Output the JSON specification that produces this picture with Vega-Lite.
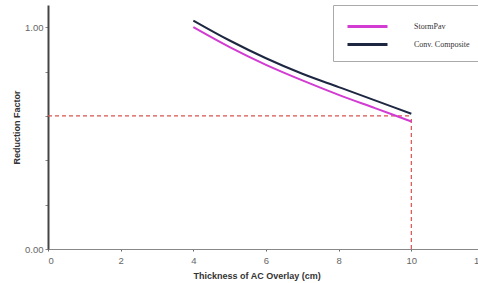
{
  "$schema": "https://vega.github.io/schema/vega-lite/v6.json",
  "autosize": {"type": "none"},
  "padding": {"left": 48, "top": 5, "right": 0, "bottom": 34},
  "width": 436,
  "height": 244,
  "background": "white",
  "config": {
    "view": {"stroke": null},
    "font": "Liberation Sans"
  },
  "datasets": {
    "curves": [
      {"t": 4, "rf": 1.0, "series": "StormPav"},
      {"t": 5, "rf": 0.91, "series": "StormPav"},
      {"t": 6, "rf": 0.83, "series": "StormPav"},
      {"t": 7, "rf": 0.76, "series": "StormPav"},
      {"t": 8, "rf": 0.695, "series": "StormPav"},
      {"t": 9, "rf": 0.635, "series": "StormPav"},
      {"t": 10, "rf": 0.575, "series": "StormPav"},
      {"t": 4, "rf": 1.03, "series": "Conv. Composite"},
      {"t": 5, "rf": 0.94, "series": "Conv. Composite"},
      {"t": 6, "rf": 0.86, "series": "Conv. Composite"},
      {"t": 7, "rf": 0.79, "series": "Conv. Composite"},
      {"t": 8, "rf": 0.73, "series": "Conv. Composite"},
      {"t": 9, "rf": 0.67, "series": "Conv. Composite"},
      {"t": 10, "rf": 0.61, "series": "Conv. Composite"}
    ],
    "refs": [
      {"x": 0, "x2": 10, "y": 0.6, "y2": 0.6},
      {"x": 10, "x2": 10, "y": 0, "y2": 0.6}
    ]
  },
  "layer": [
    {
      "data": {"name": "refs"},
      "mark": {"type": "rule", "color": "#d9534f", "strokeDash": [4, 3], "strokeWidth": 1.2},
      "encoding": {
        "x": {"field": "x", "type": "quantitative", "scale": {"domain": [0, 12]},
          "axis": {
            "values": [0,1,2,3,4,5,6,7,8,9,10,11,12],
            "labelExpr": "datum.value % 2 == 0 ? datum.value : ''",
            "domainColor": "#888", "domainWidth": 1,
            "tickColor": "#666", "tickSize": 2, "ticks": true,
            "grid": false, "labelFont": "Liberation Sans Narrow, Liberation Sans", "labelFontSize": 9.5, "labelColor": "#666", "labelPadding": 4,
            "title": "Thickness of AC Overlay (cm)", "titleFont": "Liberation Sans Narrow, Liberation Sans", "titleFontSize": 9, "titleFontWeight": "bold",
            "titleColor": "#333", "titleX": 145, "titleY": 26, "titleAlign": "left", "titleBaseline": "middle"
          }},
        "x2": {"field": "x2"},
        "y": {"field": "y", "type": "quantitative", "scale": {"domain": [0, 1.1]},
          "axis": {
            "values": [0,0.1,0.2,0.3,0.4,0.5,0.6,0.7,0.8,0.9,1.0],
            "labelExpr": "abs(datum.value*2 - round(datum.value*2)) < 0.001 ? format(datum.value, '.2f') : ''",
            "domainColor": "#444", "domainWidth": 2,
            "tickColor": "#888", "tickSize": 3,
            "grid": false, "labelFont": "Liberation Sans Narrow, Liberation Sans", "labelFontSize": 9.5, "labelColor": "#666", "labelPadding": 2,
            "title": "Reduction Factor", "titleFontSize": 9, "titleFontWeight": "bold",
            "titleColor": "#333", "titleX": -32, "titleY": 122, "titleAngle": -90,
            "titleAlign": "center", "titleBaseline": "middle"
          }},
        "y2": {"field": "y2"}
      }
    },
    {
      "data": {"name": "curves"},
      "mark": {"type": "line", "strokeWidth": 2, "interpolate": "monotone"},
      "encoding": {
        "x": {"field": "t", "type": "quantitative"},
        "y": {"field": "rf", "type": "quantitative"},
        "color": {
          "field": "series", "type": "nominal",
          "scale": {"domain": ["StormPav", "Conv. Composite"], "range": ["#d23cd2", "#1e2742"]},
          "legend": {
            "title": null, "orient": "none", "legendX": 285, "legendY": 0,
            "symbolType": "M-2,0H2", "symbolSize": 400, "symbolStrokeWidth": 3,
            "symbolOffset": 13, "labelOffset": 35,
            "labelFont": "Liberation Serif", "labelFontSize": 8, "labelColor": "#333",
            "strokeColor": "#aaa", "padding": 10, "rowPadding": -7,
            "fillColor": "white"
          }
        }
      }
    }
  ]
}
